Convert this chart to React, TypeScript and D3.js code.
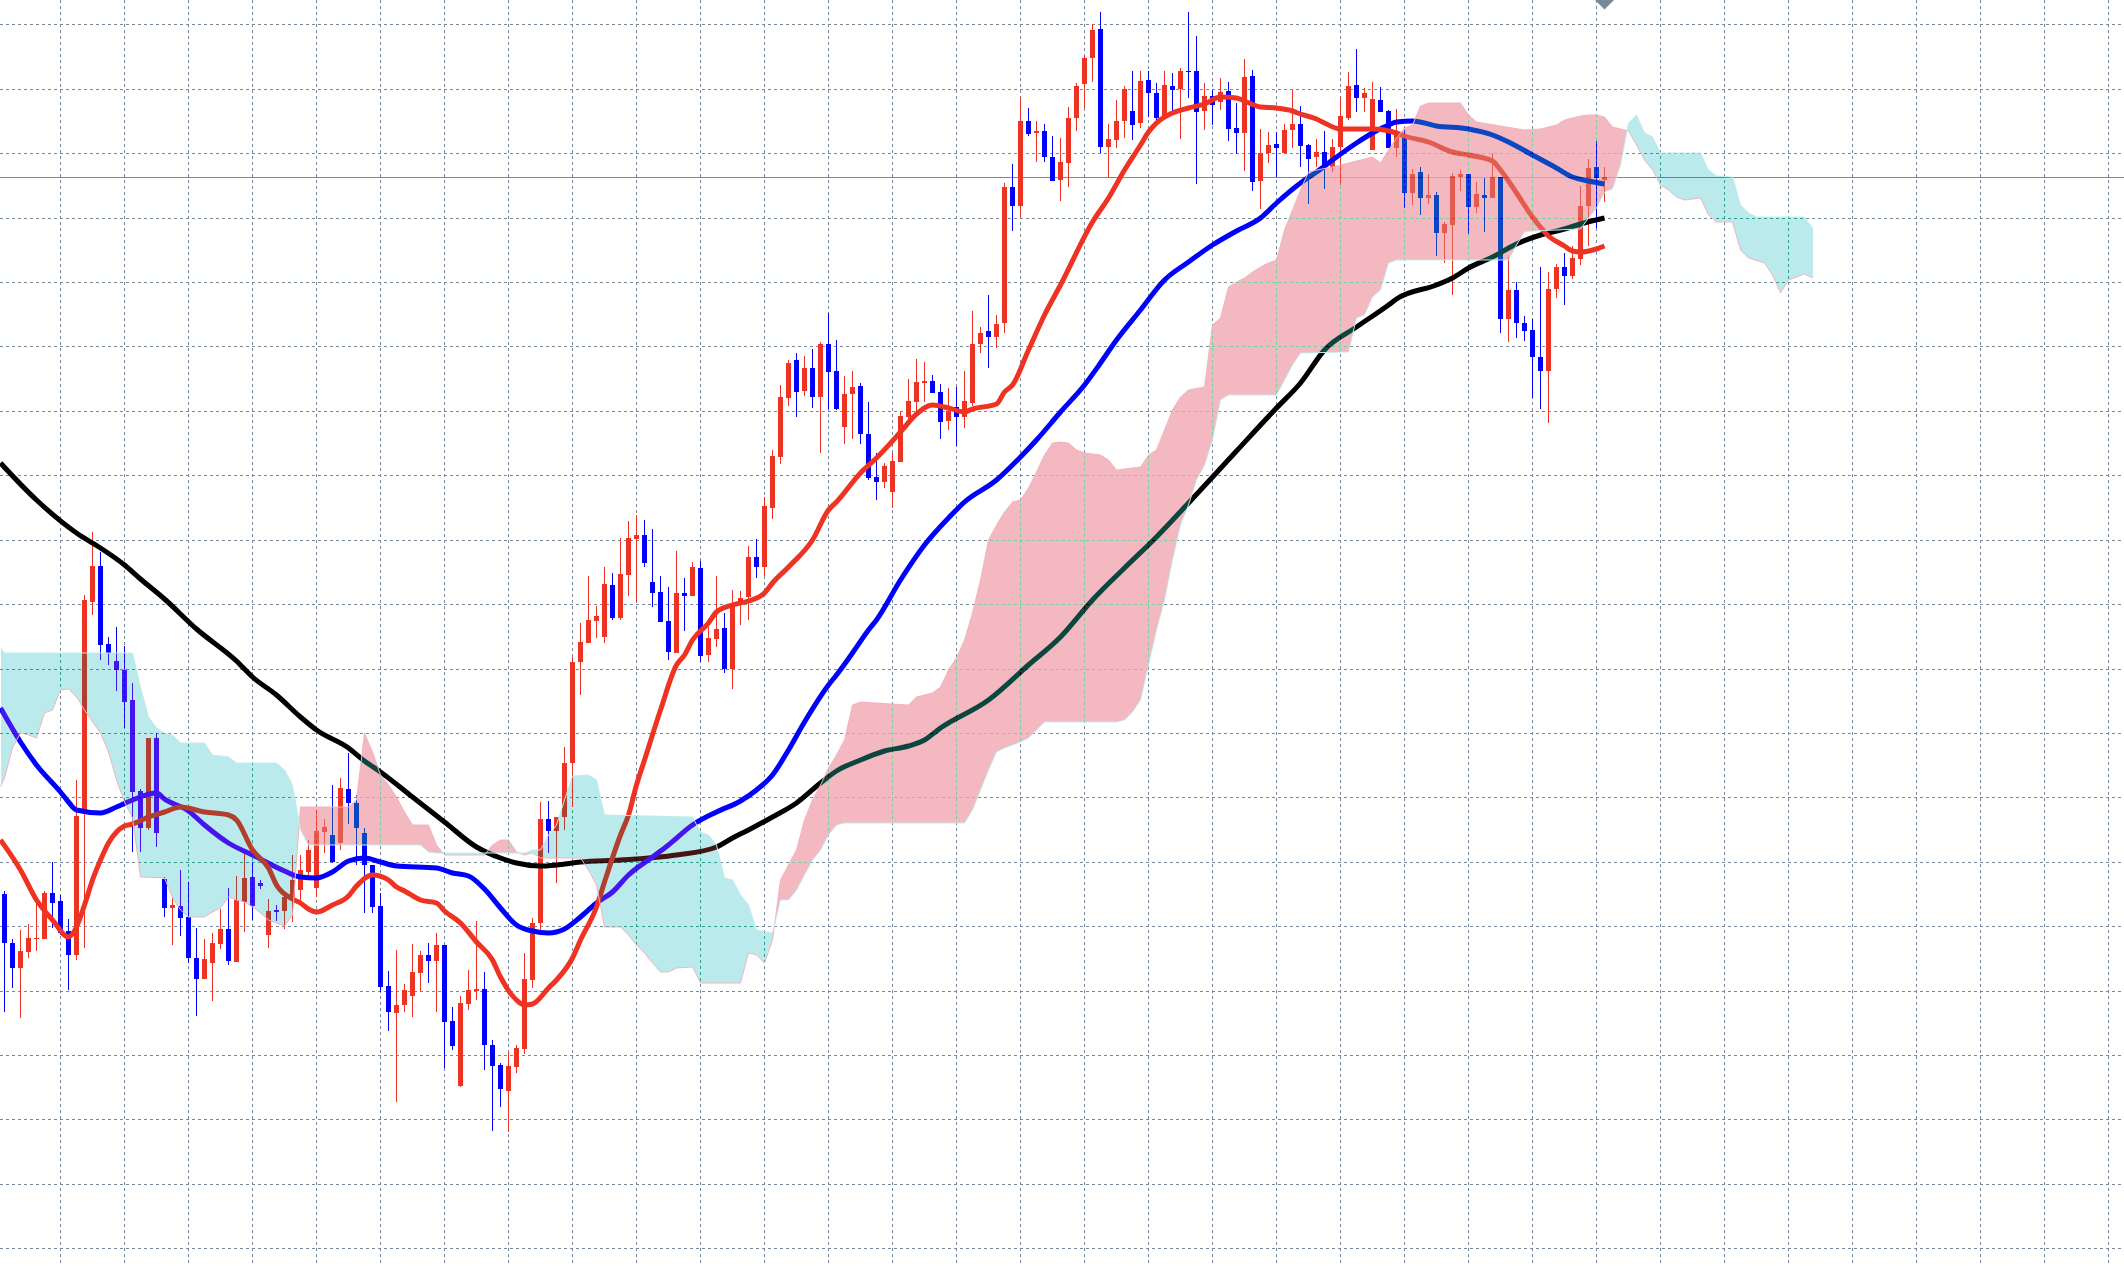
import React from 'react';
import * as d3 from 'd3';

const W = 2124;
const H = 1266;

// ---- OHLC (bar 0 .. 200) ----
const open = [
103.72,103.23,102.98,103.14,103.27,103.27,103.73,103.65,103.35,103.11,
104.56,106.64,107.00,106.22,106.05,105.96,105.66,104.75,104.38,105.28,
103.87,103.58,103.60,103.49,103.08,102.87,103.03,103.22,103.37,103.04,
103.64,103.89,103.83,103.31,103.56,103.55,103.69,103.76,103.94,103.78,
104.34,104.31,104.23,104.77,104.63,104.33,104.01,103.60,102.80,102.53,
102.61,102.70,102.93,103.11,103.05,103.21,102.45,101.80,102.62,102.75,
102.77,102.21,102.01,101.75,101.99,102.17,102.86,103.43,104.47,104.35,
104.49,105.03,106.04,106.23,106.45,106.29,106.81,106.48,106.91,107.27,
107.31,106.84,106.74,106.45,106.13,106.73,106.70,106.98,106.11,106.27,
106.38,105.97,106.63,106.69,107.09,106.99,107.58,108.09,108.68,109.06,
108.75,108.98,108.69,109.22,108.95,108.39,108.72,108.80,108.32,107.89,
107.84,107.74,108.04,108.49,108.64,108.83,108.85,108.74,108.45,108.59,
108.49,108.63,109.22,109.35,109.29,109.43,110.79,110.60,111.45,111.33,
111.35,111.09,110.86,111.03,111.48,111.82,112.08,112.37,111.19,111.26,
111.45,111.55,111.43,111.86,111.73,111.48,111.80,111.77,111.95,111.95,
111.55,111.70,111.64,111.75,111.38,111.33,111.90,110.85,111.13,111.22,
111.13,111.36,111.42,111.21,111.09,111.14,110.99,111.19,111.48,111.81,
111.68,111.16,111.66,111.55,111.18,111.31,110.73,110.94,110.68,110.71,
110.33,110.41,110.89,110.92,110.59,110.71,110.68,110.89,109.47,109.76,
109.43,109.36,109.09,108.95,109.77,109.99,109.90,110.07,110.60,110.99,
110.86
];
const high = [
103.75,103.27,103.36,103.42,103.69,103.75,104.04,103.71,103.47,104.86,
106.71,107.34,107.14,106.29,106.39,106.20,105.83,104.77,105.28,105.33,
103.89,103.69,103.96,103.84,103.38,103.27,103.33,103.57,103.78,103.90,
104.12,104.04,103.86,103.67,103.61,103.72,104.11,104.11,104.26,104.56,
104.47,104.81,104.88,105.13,104.71,104.38,104.01,103.73,102.95,103.16,
102.82,103.22,103.15,103.23,103.33,103.21,102.59,102.70,102.96,103.45,
102.94,102.26,102.03,102.14,102.21,103.13,103.48,104.64,104.65,104.49,
105.19,106.09,106.43,106.90,106.60,106.99,106.93,107.28,107.45,107.51,
107.46,107.37,106.90,106.79,107.15,106.88,107.04,107.05,106.39,106.90,
106.53,106.76,106.75,107.20,107.27,107.69,108.16,108.81,109.06,109.13,
109.10,109.17,109.24,109.53,109.26,108.90,108.95,108.83,108.64,108.13,
108.03,108.13,108.54,108.87,109.07,109.04,108.91,108.82,108.78,108.79,
108.95,109.55,109.39,109.71,109.51,110.83,111.02,111.69,111.58,111.45,
111.42,111.30,111.28,111.59,111.83,112.10,112.42,112.54,111.42,111.66,
111.80,111.95,111.95,111.95,111.83,111.95,111.93,111.98,112.54,112.30,
111.83,111.76,111.88,111.84,111.63,112.07,111.96,111.37,111.34,111.34,
111.42,111.76,111.60,111.22,111.27,111.35,111.27,111.69,111.94,112.17,
111.78,111.84,111.79,111.56,111.57,111.36,110.97,110.99,110.92,110.74,
110.44,110.93,110.96,110.92,110.84,110.88,111.13,110.89,110.09,109.84,
109.50,109.47,109.99,109.94,110.02,110.13,110.20,110.80,111.07,111.25,
110.99
];
const low = [
102.54,102.78,102.48,103.08,103.15,103.27,103.38,103.31,102.76,103.06,
103.18,106.51,106.06,106.01,105.75,105.38,104.14,104.14,104.36,104.19,
103.49,103.21,103.30,103.03,102.50,102.87,102.65,103.17,103.01,103.04,
103.34,103.46,103.77,103.18,103.45,103.37,103.44,103.61,103.86,103.69,
104.13,104.03,104.16,104.42,104.01,103.53,103.53,102.74,102.35,101.64,
102.54,102.49,102.75,102.83,102.54,101.98,102.16,101.79,102.56,102.66,
101.96,101.35,101.59,101.34,101.93,102.12,102.78,103.36,104.13,103.83,
104.36,104.59,105.71,106.23,106.28,106.23,106.46,106.46,106.70,106.64,
106.99,106.59,106.44,106.06,106.13,106.35,106.70,106.04,106.04,106.19,
105.93,105.77,106.41,106.46,106.88,106.90,107.47,108.02,108.60,108.49,
108.70,108.58,108.13,108.57,108.56,108.22,108.27,108.22,107.86,107.66,
107.78,107.58,108.04,108.46,108.53,108.64,108.73,108.27,108.36,108.20,
108.38,108.60,109.13,108.98,109.18,109.33,110.35,110.49,111.30,111.04,
111.04,110.85,110.65,110.79,111.35,111.58,111.84,111.13,110.89,111.18,
111.28,111.26,111.38,111.49,111.44,111.47,111.53,111.27,111.68,110.82,
111.36,111.41,111.56,111.25,111.12,110.95,110.75,110.57,111.03,110.89,
111.13,111.18,110.99,110.62,110.99,110.77,110.94,110.81,111.46,111.54,
111.54,111.16,111.54,111.18,111.09,110.58,110.61,110.51,110.62,110.10,
110.03,109.71,110.75,110.32,110.53,110.34,110.68,109.33,109.24,109.28,
109.25,108.68,108.57,108.43,109.68,109.61,109.87,110.01,110.20,110.38,
110.64
];
const close = [
103.23,102.98,103.15,103.28,103.28,103.73,103.63,103.33,103.11,104.50,
106.66,107.00,106.21,106.13,105.96,105.64,104.74,104.38,105.28,104.33,
103.58,103.61,103.48,103.08,102.87,103.07,103.23,103.37,103.05,103.66,
103.88,103.60,103.80,103.55,103.54,103.69,103.86,103.96,104.16,104.35,
104.39,104.04,104.78,104.63,104.38,104.01,103.59,102.79,102.54,102.61,
102.76,102.94,103.11,103.05,103.21,102.44,102.20,102.63,102.76,102.77,
102.21,102.00,101.77,102.00,102.18,102.87,103.43,104.47,104.35,104.49,
105.03,106.04,106.24,106.46,106.50,106.82,106.48,106.92,107.28,107.31,
107.03,106.73,106.44,106.14,106.73,106.70,106.99,106.10,106.28,106.37,
105.97,106.63,106.68,107.09,106.99,107.60,108.10,108.69,109.03,108.74,
108.98,108.69,109.22,108.94,108.57,108.72,108.79,108.32,107.88,107.84,
108.00,108.05,108.50,108.65,108.84,108.85,108.73,108.44,108.55,108.49,
108.65,109.22,109.33,109.29,109.42,110.79,110.60,111.45,111.32,111.35,
111.09,110.85,111.04,111.48,111.80,112.08,112.36,111.19,111.27,111.45,
111.77,111.41,111.85,111.73,111.48,111.81,111.76,111.95,111.94,111.54,
111.70,111.61,111.74,111.37,111.33,111.89,110.84,111.13,111.21,111.18,
111.36,111.42,111.20,111.07,111.14,110.99,111.19,111.50,111.80,111.68,
111.73,111.67,111.54,111.18,111.33,110.73,110.92,110.68,110.71,110.33,
110.42,110.90,110.92,110.59,110.72,110.68,110.89,109.47,109.76,109.43,
109.35,109.09,108.95,109.77,109.99,109.90,110.08,110.60,110.98,110.88,
110.89
];

// ---- moving averages: [bar, price] ----
const fastMA: [number, number][] = [
[-0.5,104.26],[2,103.96],[4,103.66],[6,103.46],[8,103.29],[9,103.39],[10,103.61],[11,103.86],[12,104.06],[13,104.23],
[14,104.34],[15,104.40],[16,104.42],[18,104.49],[20,104.54],[22,104.59],[25,104.54],[28,104.51],[29,104.46],[31,104.16],
[33,103.98],[34,103.81],[36,103.67],[37,103.63],[38,103.57],[39,103.54],[41,103.61],[43,103.70],[44,103.80],[46,103.91],
[48,103.86],[49,103.79],[50,103.75],[52,103.66],[54,103.63],[55,103.55],[57,103.43],[59,103.24],[61,103.06],[62,102.89],
[64,102.66],[65,102.61],[66,102.62],[68,102.78],[69,102.86],[71,103.08],[72,103.26],[74,103.59],[75,103.84],[77,104.31],
[78,104.51],[79,104.81],[80,105.06],[82,105.56],[84,106.01],[85,106.11],[86,106.26],[88,106.43],[89,106.54],[91,106.61],
[93,106.65],[95,106.73],[96,106.83],[98,106.99],[101,107.26],[103,107.56],[104,107.64],[107,107.93],[109,108.08],[112,108.34],
[114,108.52],[116,108.61],[118,108.58],[120,108.54],[121,108.57],[124,108.62],[125,108.74],[126,108.81],[128,109.16],[130,109.51],
[132,109.81],[136,110.44],[138,110.68],[140,110.96],[142,111.21],[143,111.34],[144,111.43],[146,111.53],[148,111.58],[150,111.62],
[152,111.69],[154,111.68],[155,111.65],[157,111.59],[159,111.58],[161,111.55],[162,111.52],[164,111.47],[165,111.43],[167,111.37],
[171,111.37],[174,111.33],[175,111.30],[178,111.24],[181,111.14],[183,111.11],[186,111.05],[187,110.96],[189,110.73],[191,110.49],
[193,110.30],[195,110.20],[196,110.15],[197,110.14],[199,110.17],[200,110.20]
];
const midMA: [number, number][] = [
[-0.5,105.58],[2,105.24],[4,105.01],[7,104.74],[8,104.64],[9,104.56],[12,104.53],[14,104.59],[16,104.66],[19,104.73],
[20,104.67],[23,104.55],[25,104.41],[28,104.23],[31,104.11],[35,103.95],[37,103.89],[39,103.88],[41,103.94],[43,104.05],
[45,104.08],[47,104.04],[49,104.00],[54,103.98],[56,103.93],[58,103.90],[60,103.77],[62,103.58],[64,103.41],[66,103.35],
[68,103.33],[70,103.37],[72,103.49],[74,103.63],[76,103.74],[78,103.91],[81,104.09],[83,104.21],[86,104.41],[89,104.54],
[92,104.65],[94,104.76],[96,104.91],[98,105.16],[100,105.44],[103,105.81],[104,105.91],[106,106.13],[108,106.36],[109,106.46],
[112,106.86],[115,107.21],[118,107.48],[120,107.64],[124,107.86],[127,108.09],[129,108.26],[132,108.54],[135,108.81],[137,109.03],
[139,109.26],[142,109.56],[145,109.86],[148,110.04],[151,110.21],[154,110.35],[157,110.48],[159,110.63],[162,110.83],[164,110.94],
[166,111.06],[169,111.23],[171,111.33],[173,111.41],[174,111.44],[176,111.45],[179,111.40],[183,111.37],[186,111.31],[188,111.24],
[191,111.11],[194,110.98],[196,110.89],[198,110.85],[200,110.82]
];
const slowMA: [number, number][] = [
[-0.5,108.03],[4,107.66],[9,107.33],[12,107.18],[15,107.01],[17,106.87],[20,106.67],[24,106.37],[29,106.05],[31,105.89],
[34,105.71],[37,105.49],[39,105.36],[43,105.18],[45,105.05],[47,104.94],[51,104.69],[55,104.44],[59,104.19],[62,104.08],
[64,104.03],[67,104.00],[69,104.01],[72,104.04],[77,104.06],[84,104.11],[89,104.19],[91,104.28],[93,104.36],[96,104.49],
[99,104.63],[102,104.83],[104,104.95],[107,105.06],[110,105.15],[113,105.20],[115,105.26],[117,105.38],[123,105.66],[128,106.01],
[132,106.29],[136,106.66],[140,106.98],[144,107.29],[148,107.63],[154,108.15],[159,108.58],[162,108.83],[165,109.16],[169,109.39],
[173,109.61],[174,109.67],[179,109.81],[181,109.88],[183,109.98],[186,110.09],[189,110.22],[192,110.31],[195,110.37],[197,110.42],
[200,110.48]
];

// ---- cloud spans (pink line / cyan line), [bar, price], shifted 26 bars ahead ----
const spanPink: [number, number][] = [
[-0.5,104.79],[0,104.88],[1,105.18],[2,105.33],[3,105.31],[4,105.28],[5,105.53],[6,105.56],[7,105.76],[8,105.77],
[9,105.69],[10,105.56],[11,105.44],[12,105.33],[13,105.14],[14,104.86],[15,104.64],[16,104.48],[17,103.89],[20,103.88],
[21,103.68],[22,103.56],[23,103.49],[25,103.49],[26,103.54],[27,103.58],[28,103.69],[29,103.66],[30,103.64],[31,103.59],
[32,103.53],[33,103.46],[35,103.40],[36,103.51],[37,104.59],[43,104.59],[44,104.66],[45,105.33],[46,105.14],[47,104.91],
[48,104.81],[49,104.69],[50,104.54],[51,104.41],[53,104.41],[54,104.21],[55,104.11],[60,104.11],[61,104.21],[62,104.26],
[63,104.26],[64,104.14],[65,104.11],[66,104.13],[67,104.08],[72,104.08],[73,103.96],[74,103.81],[75,103.39],[77,103.39],
[78,103.31],[79,103.21],[80,103.13],[81,103.03],[82,102.94],[83,102.94],[84,102.98],[86,102.99],[87,102.83],[92,102.83],
[93,103.13],[94,103.11],[95,103.03],[96,103.26],[97,103.86],[98,104.01],[99,104.16],[100,104.46],[101,104.66],[102,104.81],
[103,104.98],[104,105.11],[105,105.26],[106,105.61],[107,105.64],[113,105.61],[114,105.69],[115,105.71],[116,105.73],[117,105.79],
[118,105.96],[119,106.08],[120,106.26],[121,106.53],[122,106.86],[123,107.26],[124,107.41],[125,107.54],[126,107.64],[127,107.66],
[128,107.78],[129,107.94],[130,108.11],[131,108.23],[132,108.24],[133,108.23],[134,108.16],[135,108.13],[137,108.11],[138,108.06],
[139,107.96],[142,107.99],[143,108.11],[144,108.16],[145,108.36],[146,108.56],[147,108.69],[148,108.76],[150,108.79],[151,109.41],
[152,109.48],[153,109.79],[154,109.84],[155,109.88],[156,109.94],[157,109.99],[158,110.03],[159,110.06],[160,110.36],[161,110.56],
[162,110.76],[163,110.94],[164,110.96],[166,110.99],[168,111.03],[170,111.07],[171,111.09],[172,111.03],[173,111.16],[174,111.28],
[175,111.38],[176,111.41],[177,111.60],[178,111.63],[182,111.63],[183,111.51],[184,111.44],[190,111.36],[192,111.37],[193,111.39],
[194,111.41],[195,111.46],[196,111.48],[197,111.50],[198,111.51],[199,111.51],[200,111.49],[201,111.39],[203,111.35],[204,111.21],
[205,111.06],[206,110.96],[207,110.81],[208,110.76],[209,110.69],[210,110.66],[212,110.68],[213,110.51],[214,110.44],[216,110.44],
[217,110.16],[218,110.08],[220,110.03],[221,109.91],[222,109.73],[223,109.86],[224,109.89],[225,109.92],[226,109.88]
];
const spanCyan: [number, number][] = [
[-0.5,106.18],[0,106.13],[16,106.13],[17,105.79],[18,105.49],[19,105.38],[20,105.33],[21,105.31],[22,105.23],[25,105.23],
[26,105.11],[28,105.09],[29,105.03],[34,105.03],[35,104.96],[36,104.81],[37,104.36],[38,104.21],[52,104.21],[53,104.14],
[54,104.13],[65,104.13],[66,104.16],[67,104.16],[68,104.31],[69,104.41],[70,104.66],[71,104.90],[73,104.91],[74,104.86],
[75,104.51],[86,104.49],[87,104.34],[88,104.31],[89,104.21],[90,103.88],[91,103.86],[92,103.71],[93,103.61],[94,103.36],
[96,103.33],[97,103.66],[98,103.66],[99,103.76],[100,103.91],[101,104.06],[102,104.16],[103,104.31],[104,104.41],[105,104.43],
[120,104.43],[121,104.56],[122,104.76],[123,104.96],[124,105.14],[125,105.18],[126,105.21],[127,105.24],[128,105.28],[129,105.36],
[130,105.44],[139,105.44],[140,105.46],[141,105.54],[142,105.66],[143,106.01],[144,106.36],[145,106.66],[146,107.06],[147,107.41],
[148,107.61],[149,107.86],[150,108.01],[151,108.26],[152,108.66],[153,108.71],[159,108.71],[160,108.86],[161,109.01],[162,109.13],
[168,109.14],[169,109.48],[170,109.51],[171,109.69],[172,109.76],[173,110.03],[174,110.06],[188,110.06],[189,110.21],[190,110.34],
[191,110.35],[197,110.37],[198,110.48],[199,110.58],[200,110.74],[201,110.77],[202,111.01],[203,111.43],[204,111.51],[205,111.33],
[206,111.29],[207,111.13],[212,111.13],[213,110.96],[214,110.90],[216,110.89],[217,110.61],[218,110.53],[219,110.49],[225,110.49],
[226,110.38]
];

// ---- grid ----
const gridBars = d3.range(7, 264, 8);
const gridLevels = d3.range(20).map((k) => 112.417 - 0.6442 * k);
const lastBar = close.length - 1;
const lastClose = close[lastBar];

const RED = '#EE3322';
const BLUE = '#0000FF';
const GRID = '#778899';

export default function App() {
  const xs = d3.scaleLinear().domain([0, 1]).range([4.5, 12.5]);
  const ys = d3.scaleLinear().domain([112.66, 100]).range([0, H]);

  const maLine = d3
    .line<[number, number]>()
    .x((d) => xs(d[0]))
    .y((d) => ys(d[1]))
    .curve(d3.curveMonotoneX);
  const spanLine = d3
    .line<[number, number]>()
    .x((d) => xs(d[0]))
    .y((d) => ys(d[1]));

  const valAt = (s: [number, number][], b: number) => {
    if (b <= s[0][0]) return s[0][1];
    for (let i = 1; i < s.length; i++) {
      if (b <= s[i][0]) {
        const [b0, v0] = s[i - 1];
        const [b1, v1] = s[i];
        return v0 + ((v1 - v0) * (b - b0)) / (b1 - b0);
      }
    }
    return s[s.length - 1][1];
  };

  const allBars = Array.from(new Set([...spanPink.map((d) => d[0]), ...spanCyan.map((d) => d[0])])).sort(
    (a, b) => a - b
  );
  const pts = allBars.map((b) => ({ x: xs(b), p: ys(valAt(spanPink, b)), c: ys(valAt(spanCyan, b)) }));

  const pinkParts: string[] = [];
  const cyanParts: string[] = [];
  let top: number[][] = [];
  let bot: number[][] = [];
  let kind = '';
  const flush = () => {
    if (top.length > 1) {
      const poly = [...top, ...bot.slice().reverse()];
      const d = 'M' + poly.map((q) => q[0].toFixed(2) + ',' + q[1].toFixed(2)).join('L') + 'Z';
      (kind === 'cyan' ? cyanParts : pinkParts).push(d);
    }
  };
  pts.forEach((a, i) => {
    const da = a.c - a.p;
    if (i > 0) {
      const b = pts[i - 1];
      const db = b.c - b.p;
      if (db * da < 0) {
        const t = db / (db - da);
        const ix = b.x + t * (a.x - b.x);
        const iy = b.p + t * (a.p - b.p);
        top.push([ix, iy]);
        bot.push([ix, iy]);
        flush();
        top = [[ix, iy]];
        bot = [[ix, iy]];
        kind = '';
      }
    }
    if (!kind && da !== 0) kind = da > 0 ? 'pink' : 'cyan';
    top.push([a.x, a.p]);
    bot.push([a.x, a.c]);
  });
  flush();
  const pinkD = pinkParts.join(' ');
  const cyanD = cyanParts.join(' ');

  const priceY = Math.round(ys(lastClose)) + 0.5;

  const gridEls = (stroke: string, key: string) => (
    <g key={key} stroke={stroke} strokeWidth={1} shapeRendering="crispEdges">
      {gridBars.map((b) => (
        <line key={'v' + b} x1={xs(b)} x2={xs(b)} y1={0} y2={H} strokeDasharray="3,3" />
      ))}
      {gridLevels.map((lv, k) => {
        const y = Math.round(ys(lv)) + 0.5;
        return <line key={'h' + k} x1={0} x2={W} y1={y} y2={y} strokeDasharray="3,3" />;
      })}
      <line x1={0} x2={W} y1={priceY} y2={priceY} />
    </g>
  );

  const xLast = xs(lastBar);

  return (
    <svg
      width={W}
      height={H}
      viewBox={`0 0 ${W} ${H}`}
      style={{ position: 'absolute', left: 0, top: 0, display: 'block' }}
    >
      <defs>
        <clipPath id="pinkClip">
          <path d={pinkD} />
        </clipPath>
        <clipPath id="cyanClip">
          <path d={cyanD} />
        </clipPath>
        <mask id="gridMask" maskUnits="userSpaceOnUse" x={0} y={0} width={W} height={H}>
          <rect x={0} y={0} width={W} height={H} fill="#fff" />
          {gridEls('#000', 'm')}
        </mask>
      </defs>
      <rect x={0} y={0} width={W} height={H} fill="#ffffff" />

      {gridEls(GRID, 'g')}
      <g clipPath="url(#pinkClip)">{gridEls('rgb(124,204,164)', 'gp')}</g>
      <g clipPath="url(#cyanClip)">{gridEls('rgb(51,156,138)', 'gc')}</g>

      <g shapeRendering="crispEdges">
        {close.map((c, i) => {
          const o = open[i];
          const up = c >= o;
          const col = up ? RED : BLUE;
          const x = xs(i);
          const yTop = ys(Math.max(o, c));
          const yBot = ys(Math.min(o, c));
          return (
            <g key={i}>
              <line x1={x} x2={x} y1={ys(high[i])} y2={ys(low[i])} stroke={col} strokeWidth={1} />
              <rect x={x - 2.5} y={yTop} width={5} height={Math.max(1, yBot - yTop)} fill={col} />
            </g>
          );
        })}
      </g>

      <path d={maLine(slowMA) || ''} fill="none" stroke="#000000" strokeWidth={5} strokeLinejoin="round" />
      <path d={maLine(midMA) || ''} fill="none" stroke={BLUE} strokeWidth={5} strokeLinejoin="round" />
      <path d={maLine(fastMA) || ''} fill="none" stroke={RED} strokeWidth={5} strokeLinejoin="round" />

      <g mask="url(#gridMask)" style={{ mixBlendMode: 'exclusion' }}>
        <path d={pinkD} fill="rgb(12,71,63)" shapeRendering="crispEdges" />
        <path d={cyanD} fill="rgb(68,21,19)" shapeRendering="crispEdges" />
      </g>

      <path d={spanLine(spanPink) || ''} fill="none" stroke="#F4B4BE" strokeWidth={1} />
      <path d={spanLine(spanCyan) || ''} fill="none" stroke="#C2ECEC" strokeWidth={1} />

      <path d={`M${xLast - 9.5},0L${xLast + 9.5},0L${xLast},9.5Z`} fill={GRID} />
    </svg>
  );
}
